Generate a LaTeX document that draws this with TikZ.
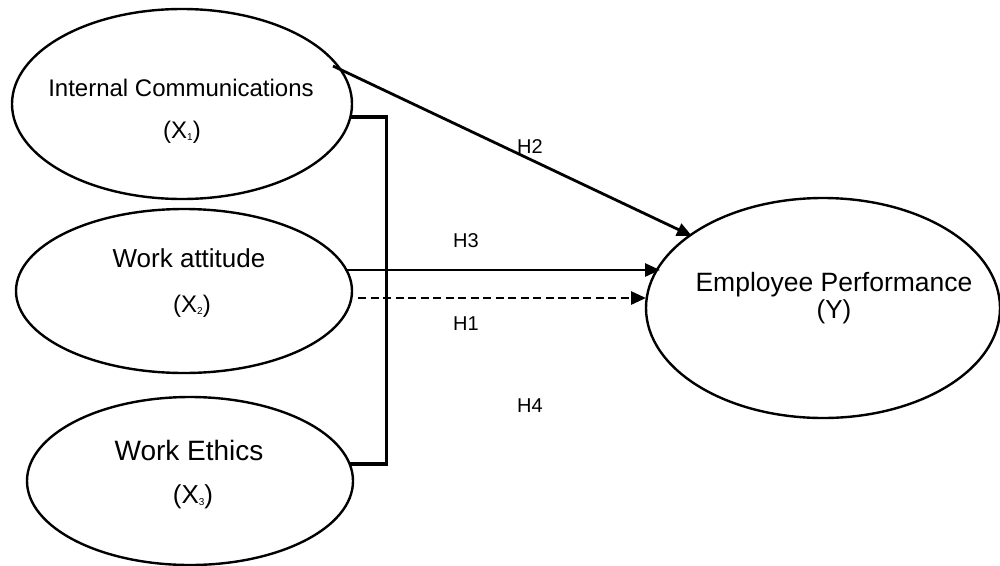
\documentclass[tikz,border=0pt]{standalone}
\usepackage{fontspec}
\setmainfont{Liberation Sans}
\usetikzlibrary{arrows.meta,shapes.geometric}
\newcommand{\fs}[1]{\fontsize{#1}{#1}\selectfont}
\newcommand{\sbs}[1]{\raisebox{-2.5pt}{\fs{10}#1}}
\begin{document}
\begin{tikzpicture}[x=1pt,y=-1pt,
  oval/.style={draw,ellipse,line width=2.4pt,inner sep=0pt},
  lbl/.style={anchor=base,inner sep=0pt},
  hlbl/.style={anchor=base,inner sep=0pt,font=\fs{20}},
  arr/.style={line width=2.8pt,-{Triangle[length=15pt,width=13pt]}},
  brk/.style={line width=3.2pt}]
\useasboundingbox (0,0) rectangle (1000,565);
% ellipses
\node[oval,minimum width=340pt,minimum height=190pt] (e1) at (182,104) {};
\node[oval,minimum width=336pt,minimum height=164pt] (e2) at (184,291) {};
\node[oval,minimum width=326pt,minimum height=168pt] (e3) at (190,481) {};
\node[oval,minimum width=354pt,minimum height=220pt] (ey) at (823,308) {};
% texts
\node[lbl,font=\fs{24}] (t1) at (181,96) {Internal Communications};
\node[lbl,font=\fs{24}] (s1) at (182,138) {(X\sbs{1})};
\node[lbl,font=\fs{26}] (t2) at (189,267) {Work attitude};
\node[lbl,font=\fs{24}] (s2) at (192,312) {(X\sbs{2})};
\node[lbl,font=\fs{28}] (t3) at (189,460) {Work Ethics};
\node[lbl,font=\fs{26}] (s3) at (193,503) {(X\sbs{3})};
\node[lbl,font=\fs{26.5}] (ty) at (834,291) {Employee Performance};
\node[lbl,font=\fs{26}] (sy) at (834,318) {(Y)};
% hypothesis labels
\node[hlbl] (h2) at (530,153) {H2};
\node[hlbl] (h3) at (466,247) {H3};
\node[hlbl] (h1) at (466,330) {H1};
\node[hlbl] (h4) at (530,412) {H4};
% bracket
\coordinate (b1) at (351,117);
\coordinate (b2) at (386.5,117);
\coordinate (b3) at (386.5,464);
\coordinate (b4) at (349,464);
\draw[brk,line join=miter] (b1) -- (b2) -- (b3) -- (b4);
% arrows
\coordinate (a2s) at (333,66);
\coordinate (a2e) at (692,236);
\coordinate (a3s) at (345,270);
\coordinate (a3e) at (660,270);
\coordinate (a1s) at (358,298);
\coordinate (a1e) at (646,298);
\draw[arr] (a2s) -- (a2e);
\draw[arr] (a3s) -- (a3e);
\draw[arr,dash pattern=on 8pt off 4.5pt] (a1s) -- (a1e);
\end{tikzpicture}
\end{document}
